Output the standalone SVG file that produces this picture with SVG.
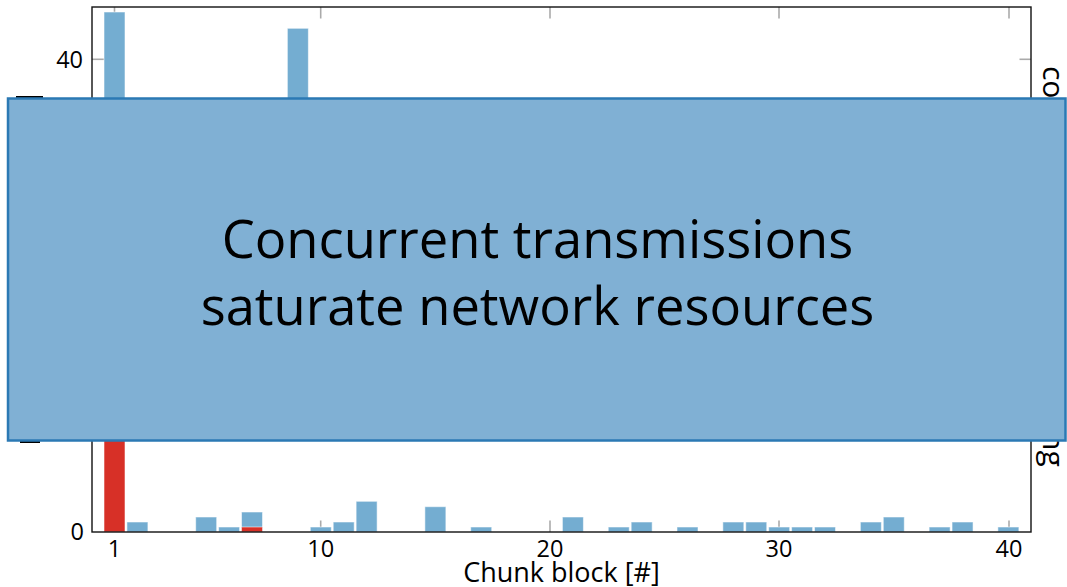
<svg xmlns="http://www.w3.org/2000/svg" width="1067" height="587" viewBox="0 0 1067 587">
  <style>
    .bar { fill: #74add1; stroke: #ffffff; stroke-opacity: 0.55; stroke-width: 1; }
    .red { fill: #d73027; stroke: #ffffff; stroke-opacity: 0.55; stroke-width: 1; }
    .tick { stroke: #aaaaaa; stroke-width: 1.6; fill: none; }
    .frame { stroke: #111111; stroke-width: 1.4; fill: none; }
    .lbl { font-family: "Open Sans", "Noto Sans", sans-serif; font-size: 23.5px; fill: #000000; }
    .axis-title { font-family: "Open Sans", "Noto Sans", sans-serif; font-size: 27px; fill: #000000; }
    .side { font-family: "Open Sans", "Noto Sans", sans-serif; font-size: 30px; fill: #000000; }
    .banner-text { font-family: "Open Sans", "Noto Sans", sans-serif; font-size: 52.5px; fill: #000000; }
  </style>

  <rect width="1067" height="587" fill="#ffffff"/>

  <!-- tick marks (inside the frame) -->
  <g id="ticks">
    <line class="tick" x1="114.5" y1="7" x2="114.5" y2="18"/>
    <line class="tick" x1="320.7" y1="7" x2="320.7" y2="18.5"/>
    <line class="tick" x1="550" y1="7" x2="550" y2="18.5"/>
    <line class="tick" x1="779" y1="7" x2="779" y2="18.5"/>
    <line class="tick" x1="1009" y1="7" x2="1009" y2="18.5"/>
    <line class="tick" x1="114.5" y1="532" x2="114.5" y2="520.5"/>
    <line class="tick" x1="320.7" y1="532" x2="320.7" y2="520.5"/>
    <line class="tick" x1="550" y1="532" x2="550" y2="520.5"/>
    <line class="tick" x1="779" y1="532" x2="779" y2="520.5"/>
    <line class="tick" x1="1009" y1="532" x2="1009" y2="520.5"/>
    <line class="tick" x1="92" y1="59.3" x2="104" y2="59.3"/>
    <line class="tick" x1="1031" y1="59.3" x2="1019.5" y2="59.3"/>
  </g>

  <!-- histogram bars -->
  <g id="bars">
    <rect class="bar" x="104" y="12" width="21" height="248"/>
    <rect class="red" x="104" y="260" width="21" height="272"/>
    <rect class="bar" x="126.92" y="522" width="21" height="10"/>
    <rect class="bar" x="195.68" y="517" width="21" height="15"/>
    <rect class="bar" x="218.6" y="527" width="21" height="5"/>
    <rect class="bar" x="241.52" y="512" width="21" height="20"/>
    <rect class="red" x="241.52" y="527" width="21" height="5"/>
    <rect class="bar" x="287.36" y="28.3" width="21" height="190"/>
    <rect class="bar" x="310.28" y="527" width="21" height="5"/>
    <rect class="bar" x="333.2" y="522" width="21" height="10"/>
    <rect class="bar" x="356.12" y="501.3" width="21" height="30.7"/>
    <rect class="bar" x="424.88" y="506.7" width="21" height="25.3"/>
    <rect class="bar" x="470.72" y="527" width="21" height="5"/>
    <rect class="bar" x="562.4" y="517" width="21" height="15"/>
    <rect class="bar" x="608.24" y="527" width="21" height="5"/>
    <rect class="bar" x="631.16" y="522" width="21" height="10"/>
    <rect class="bar" x="677" y="527" width="21" height="5"/>
    <rect class="bar" x="722.84" y="522" width="21" height="10"/>
    <rect class="bar" x="745.76" y="522" width="21" height="10"/>
    <rect class="bar" x="768.68" y="527" width="21" height="5"/>
    <rect class="bar" x="791.6" y="527" width="21" height="5"/>
    <rect class="bar" x="814.52" y="527" width="21" height="5"/>
    <rect class="bar" x="860.36" y="522" width="21" height="10"/>
    <rect class="bar" x="883.28" y="517" width="21" height="15"/>
    <rect class="bar" x="929.12" y="527" width="21" height="5"/>
    <rect class="bar" x="952.04" y="522" width="21" height="10"/>
    <rect class="bar" x="997.88" y="527" width="21" height="5"/>
  </g>

  <!-- plot frame -->
  <rect class="frame" x="92" y="7" width="939" height="525"/>

  <!-- axis labels -->
  <g id="y-labels">
    <text class="lbl" x="83" y="67.5" text-anchor="end">40</text>
    <text class="lbl" x="84" y="540" text-anchor="end">0</text>
  </g>
  <g id="x-labels">
    <text class="lbl" x="114.5" y="556.5" text-anchor="middle">1</text>
    <text class="lbl" x="320.7" y="556.5" text-anchor="middle">10</text>
    <text class="lbl" x="550" y="556.5" text-anchor="middle">20</text>
    <text class="lbl" x="779" y="556.5" text-anchor="middle">30</text>
    <text class="lbl" x="1009" y="556.5" text-anchor="middle">40</text>
    <text class="axis-title" x="561.5" y="581.5" text-anchor="middle">Chunk block [#]</text>
  </g>

  <!-- fragments of side labels peeking out from behind the banner -->
  <g id="side-marks">
    <rect x="16" y="96" width="27" height="3" fill="#000000"/>
    <rect x="20" y="440.5" width="20" height="2.5" fill="#000000"/>
    <text class="side" transform="translate(1043,66) rotate(90)">co</text>
    <text class="side" transform="translate(1043,432) rotate(90)">ng</text>
  </g>

  <!-- banner -->
  <g id="banner">
    <rect x="8" y="98.5" width="1057.5" height="342" fill="#80b0d4" stroke="#2b79b4" stroke-width="2.5"/>
    <text class="banner-text" x="537.5" y="257.5" text-anchor="middle">Concurrent transmissions</text>
    <text class="banner-text" x="537.5" y="325" text-anchor="middle">saturate network resources</text>
  </g>
</svg>
